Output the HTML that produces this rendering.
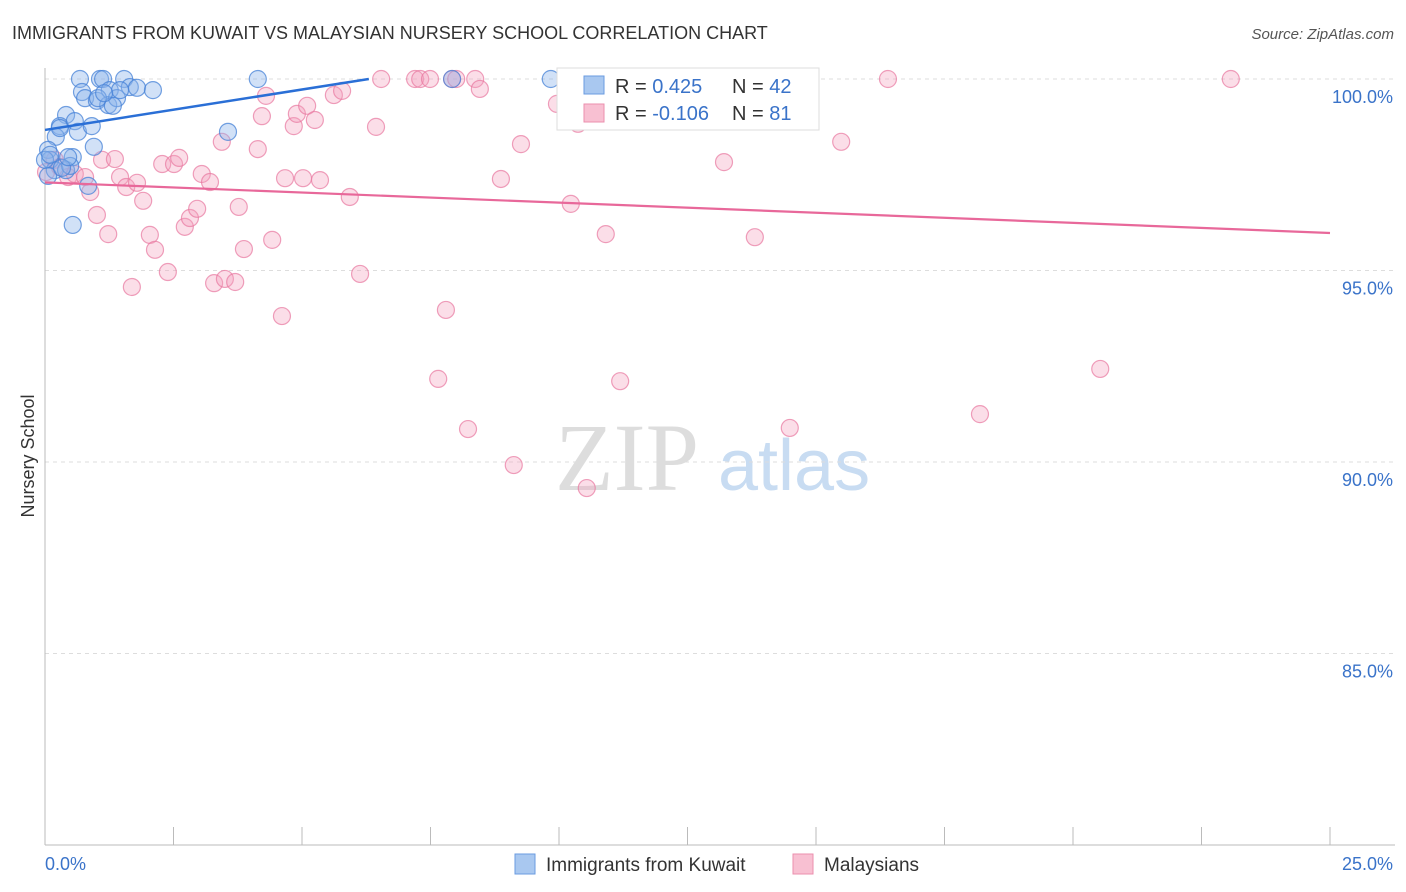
<!DOCTYPE html>
<html><head><meta charset="utf-8"><style>
body{margin:0;background:#fff;font-family:"Liberation Sans",sans-serif;}
svg{display:block}
</style></head><body>
<svg id="c" width="1406" height="892">
<text x="12" y="39" font-size="18" fill="#333">IMMIGRANTS FROM KUWAIT VS MALAYSIAN NURSERY SCHOOL CORRELATION CHART</text>
<text x="1394" y="39" font-size="15" fill="#555" font-style="italic" text-anchor="end">Source: ZipAtlas.com</text>
<text x="34" y="456" font-size="18" fill="#333" text-anchor="middle" transform="rotate(-90 34 456)">Nursery School</text>
<text x="555" y="490" font-size="96" fill="#ddd" font-family="Liberation Serif">ZIP</text>
<text x="718" y="490" font-size="72" fill="#c8dcf2">atlas</text>
<g id="grid"></g><g id="pts"></g><g id="lines"></g>
<g>
<rect x="557" y="68" width="262" height="62" fill="#fff" stroke="#ddd"/>
<rect x="584" y="76" width="20" height="18" fill="#a9c8f0" stroke="#6a9be0"/>
<rect x="584" y="104" width="20" height="18" fill="#f8c0d2" stroke="#eb8fae"/>
<text x="615" y="93" font-size="20" fill="#333">R = <tspan fill="#3a73c9"> 0.425</tspan><tspan x="732">N = </tspan><tspan fill="#3a73c9">42</tspan></text>
<text x="615" y="120" font-size="20" fill="#333">R = <tspan fill="#3a73c9">-0.106</tspan><tspan x="732">N = </tspan><tspan fill="#3a73c9">81</tspan></text>
</g>
<g>
<rect x="515" y="854" width="20" height="20" fill="#a9c8f0" stroke="#6a9be0"/>
<text x="546" y="871" font-size="19" fill="#333">Immigrants from Kuwait</text>
<rect x="793" y="854" width="20" height="20" fill="#f8c0d2" stroke="#eb8fae"/>
<text x="824" y="871" font-size="19" fill="#333">Malaysians</text>
</g>
</svg>
<script>
const xTicks=[0,2.5,5,7.5,10,12.5,15,17.5,20,22.5,25];
const yTicks=[100,95,90,85];
const yTickLabels=["100.0%","95.0%","90.0%","85.0%"];
const xEndLabels=["0.0%","25.0%"];
const blueX=[0.68,1.07,1.13,1.54,4.14,7.92,9.84,0.72,1.26,1.65,1.79,2.1,0.78,1.01,1.23,1.4,1.46,0.41,0.29,0.58,0.64,0.91,0.21,0.06,0.1,0.54,0.95,3.56,0.19,0.41,0.49,0.06,0.84,0.54,0.33,0,1.03,1.32,1.15,0.29,0.45,0.1];
const blueY=[100,100,100,100,100,100,100,99.66,99.71,99.79,99.77,99.71,99.5,99.43,99.32,99.5,99.71,99.06,98.77,98.9,98.62,98.77,98.49,98.15,97.89,97.96,98.23,98.62,97.62,97.62,97.73,97.47,97.21,96.19,97.68,97.89,99.5,99.3,99.63,98.72,97.96,98.02];
const pinkX=[0.02,0.19,0.29,0.45,0.58,0.78,0.88,1.01,1.11,1.23,1.36,1.46,1.58,1.69,1.79,1.91,2.04,2.14,2.28,2.39,2.51,2.61,2.72,2.82,2.96,3.05,3.21,3.29,3.44,3.5,3.7,3.77,3.87,4.14,4.22,4.3,4.42,4.61,4.67,4.84,4.9,5.02,5.1,5.25,5.35,5.62,5.78,5.93,6.13,6.44,6.54,7.2,7.3,7.49,7.65,7.8,7.92,8.23,8.37,8.46,8.87,9.12,9.26,9.96,10.23,10.37,10.54,10.91,11.19,11.52,13.21,13.81,14.1,14.49,15.49,16.4,18.19,20.53,23.07,10.8,8.0];
const pinkY=[97.57,97.89,97.7,97.44,97.52,97.44,97.05,96.45,97.89,95.95,97.91,97.44,97.18,94.57,97.29,96.82,95.93,95.54,97.78,94.96,97.78,97.94,96.14,96.37,96.61,97.52,97.31,94.67,98.36,94.78,94.7,96.66,95.56,98.17,99.03,99.56,95.8,93.81,97.41,98.77,99.09,97.41,99.3,98.93,97.36,99.58,99.69,96.92,94.91,98.75,100,100,100,100,92.17,93.97,100,90.86,100,99.74,97.39,89.92,98.3,99.35,96.74,98.83,89.32,95.95,92.11,100,97.83,95.87,100,90.89,98.36,100,91.25,92.43,100,99.7,100];
const blueTrendX=[0,6.3],blueTrendY=[98.67,100];
const pinkTrendX=[0,25],pinkTrendY=[97.3,95.98];
const X=v=>45+v*51.4, Y=v=>79+(100-v)*38.3;
const NS="http://www.w3.org/2000/svg";
function mk(t,a,p){const e=document.createElementNS(NS,t);for(const k in a)e.setAttribute(k,a[k]);p.appendChild(e);return e;}
const grid=document.getElementById('grid');
yTicks.forEach((v,i)=>{
 const l=mk('line',{x1:45,x2:1395,y1:Y(v),y2:Y(v),stroke:'#ddd','stroke-dasharray':'4 4'},grid);
 
 
 const t=mk('text',{x:1393,y:Y(v)+24,'font-size':18,fill:'#3a73c9','text-anchor':'end'},grid);t.textContent=yTickLabels[i];
 
 
});
const ax=mk('line',{x1:45,x2:45,y1:68,y2:845,stroke:'#bbb'},grid);


const bx=mk('line',{x1:45,x2:1395,y1:845,y2:845,stroke:'#bbb'},grid);


xTicks.forEach(v=>{const t=mk('line',{x1:X(v),x2:X(v),y1:827,y2:845,stroke:'#bbb'},grid);
 
 });
const l0=mk('text',{x:45,y:870,'font-size':18,fill:'#3a73c9'},grid);l0.textContent=xEndLabels[0];


const l1=mk('text',{x:1393,y:870,'font-size':18,fill:'#3a73c9','text-anchor':'end'},grid);l1.textContent=xEndLabels[1];


const pts=document.getElementById('pts');
pinkX.forEach((x,i)=>{const c=mk('circle',{cx:X(x),cy:Y(pinkY[i]),r:8.5,fill:'rgba(244,160,190,0.35)',stroke:'rgba(232,120,160,0.7)','stroke-width':1.2},pts);
 
 });
blueX.forEach((x,i)=>{const c=mk('circle',{cx:X(x),cy:Y(blueY[i]),r:8.5,fill:'rgba(140,180,235,0.4)',stroke:'rgba(70,130,215,0.75)','stroke-width':1.2},pts);
 
 });
const lines=document.getElementById('lines');
const bl=mk('line',{x1:X(blueTrendX[0]),y1:Y(blueTrendY[0]),x2:X(blueTrendX[1]),y2:Y(blueTrendY[1]),stroke:'#2a6fd6','stroke-width':2.5},lines);


const pl=mk('line',{x1:X(pinkTrendX[0]),y1:Y(pinkTrendY[0]),x2:X(pinkTrendX[1]),y2:Y(pinkTrendY[1]),stroke:'#e8689a','stroke-width':2.2},lines);


</script>
</body></html>
